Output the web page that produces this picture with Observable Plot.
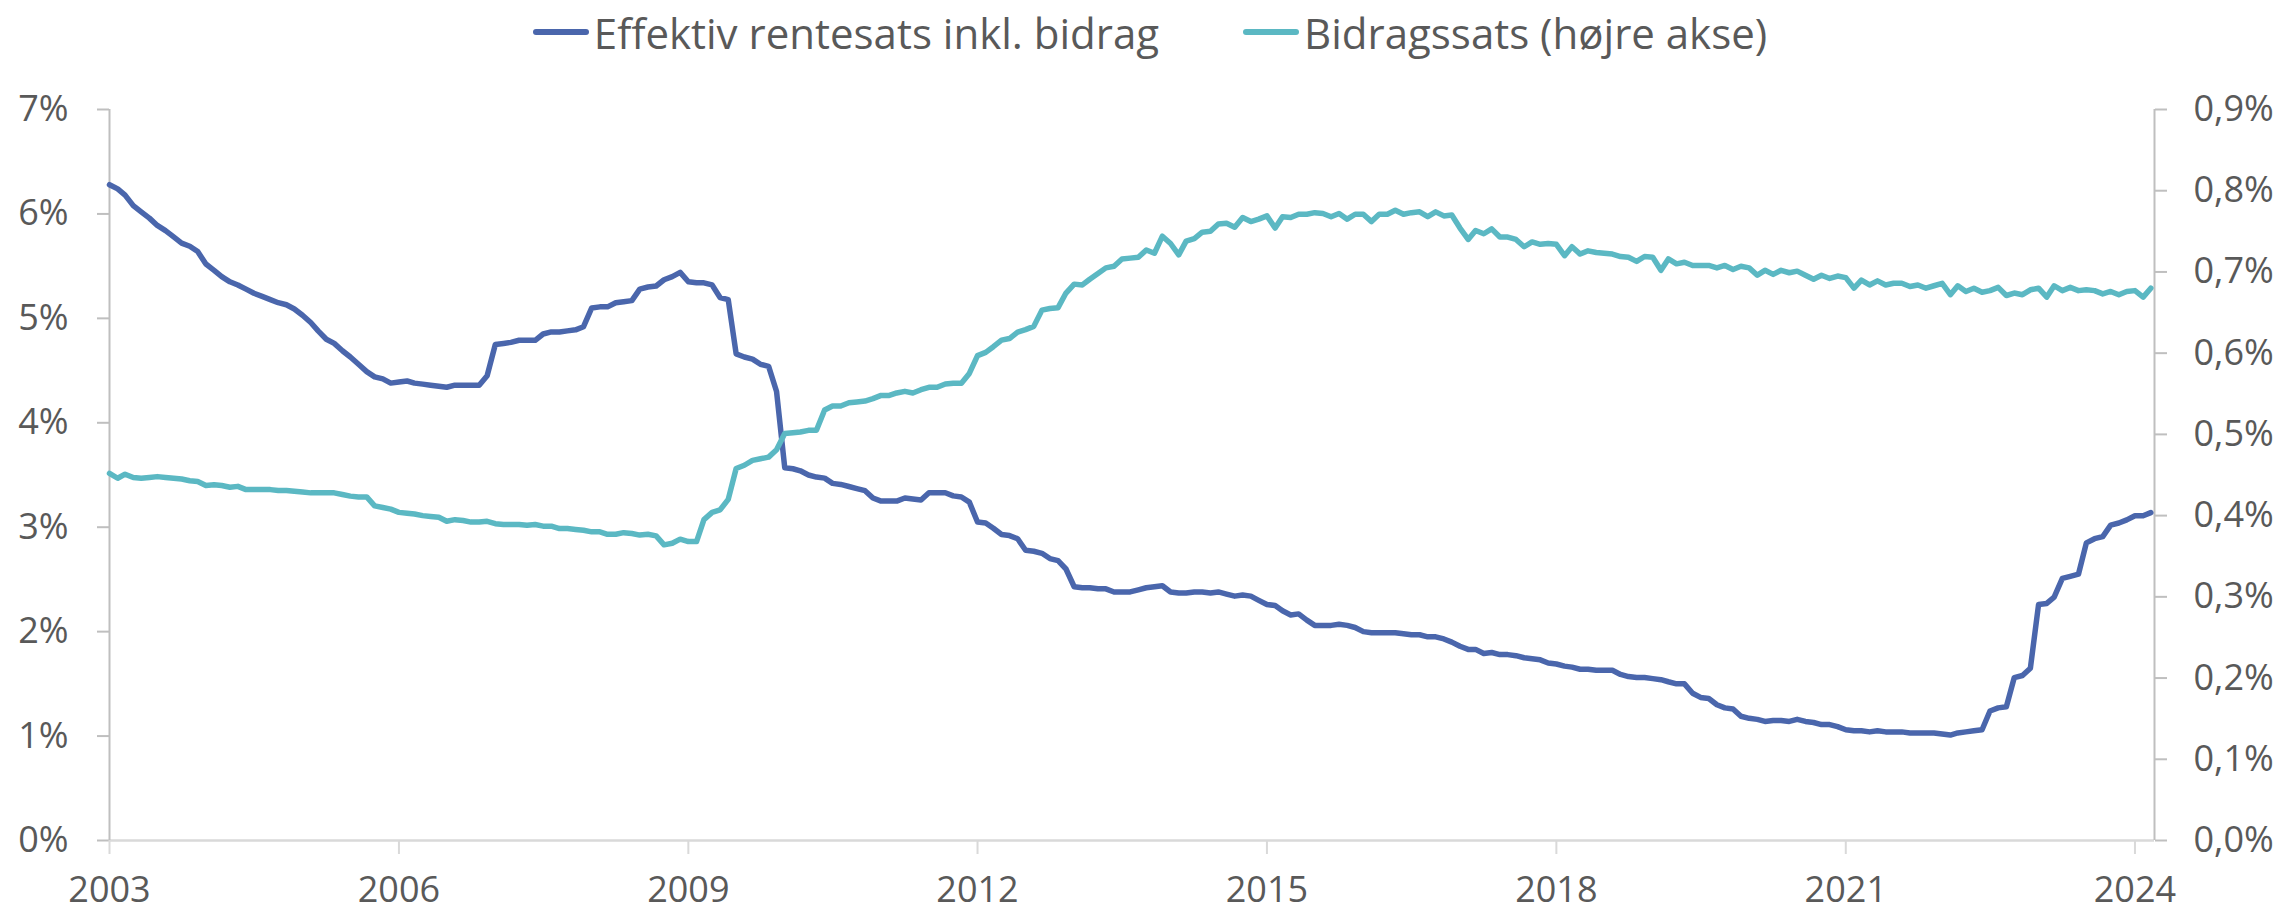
<!DOCTYPE html>
<html><head><meta charset="utf-8">
<script src="https://cdn.jsdelivr.net/npm/d3@7"></script>
<script src="https://cdn.jsdelivr.net/npm/@observablehq/plot@0.6"></script>
<style>
body{margin:0;background:#fff;font-family:"Open Sans",sans-serif;}
#legend{height:90px;display:flex;justify-content:center;align-items:flex-start;padding-left:15px;padding-top:2px;box-sizing:border-box;}
.item{display:flex;align-items:center;height:60px;font-size:42px;color:#595959;white-space:nowrap;}
.sw{width:56px;height:6px;border-radius:3px;margin-right:5px;}
</style></head><body>
<div id="legend"></div>
<div id="chart"></div>
<script>
// Monthly data, Jan 2003 - Mar 2024
const seriesNames = ["Effektiv rentesats inkl. bidrag", "Bidragssats (højre akse)"];
const seriesColors = ["#4A66AC", "#5BB8C3"];
const rente = [
6.28,6.24,6.18,6.08,6.02,5.96,5.89,5.84,5.78,5.72,5.69,5.64,5.52,5.46,5.40,5.35,5.32,5.28,5.24,5.21,5.18,5.15,5.13,5.09,5.03,4.96,4.88,4.80,4.76,4.69,4.63,4.56,4.49,4.44,4.42,4.38,
4.39,4.40,4.38,4.37,4.36,4.35,4.34,4.36,4.36,4.36,4.36,4.45,4.75,4.76,4.77,4.79,4.79,4.79,4.85,4.87,4.87,4.88,4.89,4.92,5.10,5.11,5.11,5.15,5.16,5.17,5.28,5.30,5.31,5.37,5.40,5.44,
5.35,5.34,5.34,5.32,5.20,5.18,4.66,4.63,4.61,4.56,4.54,4.30,3.57,3.56,3.54,3.50,3.48,3.47,3.42,3.41,3.39,3.37,3.35,3.28,3.25,3.25,3.25,3.28,3.27,3.26,3.33,3.33,3.33,3.30,3.29,3.24,
3.05,3.04,2.99,2.93,2.92,2.89,2.78,2.77,2.75,2.70,2.68,2.60,2.43,2.42,2.42,2.41,2.41,2.38,2.38,2.38,2.40,2.42,2.43,2.44,2.38,2.37,2.37,2.38,2.38,2.37,2.38,2.36,2.34,2.35,2.34,2.30,
2.26,2.25,2.20,2.16,2.17,2.11,2.06,2.06,2.06,2.07,2.06,2.04,2.00,1.99,1.99,1.99,1.99,1.98,1.97,1.97,1.95,1.95,1.93,1.90,1.86,1.83,1.83,1.79,1.80,1.78,1.78,1.77,1.75,1.74,1.73,1.70,
1.69,1.67,1.66,1.64,1.64,1.63,1.63,1.63,1.59,1.57,1.56,1.56,1.55,1.54,1.52,1.50,1.50,1.41,1.37,1.36,1.30,1.27,1.26,1.19,1.17,1.16,1.14,1.15,1.15,1.14,1.16,1.14,1.13,1.11,1.11,1.09,
1.06,1.05,1.05,1.04,1.05,1.04,1.04,1.04,1.03,1.03,1.03,1.03,1.02,1.01,1.03,1.04,1.05,1.06,1.24,1.27,1.28,1.56,1.58,1.65,2.26,2.27,2.33,2.51,2.53,2.55,2.85,2.89,2.91,3.02,3.04,3.07,3.11,3.11,3.14
];
const bidrag = [
0.452,0.446,0.451,0.447,0.446,0.447,0.448,0.447,0.446,0.445,0.443,0.442,0.437,0.438,0.437,0.435,0.436,0.432,0.432,0.432,0.432,0.431,0.431,0.430,0.429,0.428,0.428,0.428,0.428,0.426,0.424,0.423,0.423,0.412,0.410,0.408,
0.404,0.403,0.402,0.400,0.399,0.398,0.393,0.395,0.394,0.392,0.392,0.393,0.390,0.389,0.389,0.389,0.388,0.389,0.387,0.387,0.384,0.384,0.383,0.382,0.380,0.380,0.377,0.377,0.379,0.378,0.376,0.377,0.375,0.364,0.366,0.371,
0.368,0.368,0.395,0.404,0.407,0.420,0.458,0.462,0.468,0.470,0.472,0.481,0.501,0.502,0.503,0.505,0.505,0.530,0.535,0.535,0.539,0.540,0.541,0.544,0.548,0.548,0.551,0.553,0.551,0.555,0.558,0.558,0.562,0.563,0.563,0.575,
0.597,0.601,0.608,0.616,0.618,0.626,0.629,0.633,0.653,0.655,0.656,0.674,0.685,0.684,0.691,0.698,0.705,0.707,0.716,0.717,0.718,0.727,0.723,0.744,0.735,0.721,0.738,0.741,0.749,0.750,0.759,0.760,0.755,0.767,0.762,0.765,
0.769,0.754,0.768,0.767,0.771,0.771,0.773,0.772,0.768,0.772,0.765,0.771,0.771,0.762,0.771,0.771,0.776,0.771,0.773,0.774,0.768,0.774,0.769,0.770,0.754,0.740,0.751,0.747,0.753,0.743,0.743,0.740,0.731,0.737,0.734,0.735,
0.734,0.720,0.731,0.722,0.726,0.724,0.723,0.722,0.719,0.718,0.713,0.719,0.718,0.702,0.716,0.710,0.712,0.708,0.708,0.708,0.705,0.708,0.703,0.707,0.705,0.696,0.702,0.697,0.702,0.699,0.701,0.696,0.691,0.696,0.692,0.695,
0.693,0.680,0.690,0.684,0.689,0.684,0.686,0.686,0.682,0.684,0.680,0.683,0.686,0.672,0.683,0.676,0.680,0.675,0.677,0.681,0.671,0.674,0.672,0.678,0.680,0.669,0.683,0.677,0.681,0.677,0.678,0.677,0.673,0.676,0.672,0.676,0.677,0.669,0.680
];
const yearTickLabels = [2003, 2006, 2009, 2012, 2015, 2018, 2021, 2024];
const leftTicks = [0, 1, 2, 3, 4, 5, 6, 7];
const rightTicks = [0, 0.1, 0.2, 0.3, 0.4, 0.5, 0.6, 0.7, 0.8, 0.9];
const leftMax = 7, rightMax = 0.9;

const months = d3.utcMonth.range(new Date(Date.UTC(2003, 0, 1)), new Date(Date.UTC(2024, 3, 1)));
const data = months.map((d, i) => ({date: d, rente: rente[i], bidrag: bidrag[i]}));
const k = leftMax / rightMax;
const xStart = new Date(Date.UTC(2003, 0, 1));
const xEnd = new Date(Date.UTC(2024, 2, 15));
const yearTicks = yearTickLabels.map(y => new Date(Date.UTC(y, 0, 1)));
const rightPos = rightTicks.map((r, i) => i * leftMax / 9);

// legend
const leg = document.getElementById("legend");
seriesNames.forEach((n, i) => {
  const it = document.createElement("div");
  it.className = "item";
  if (i > 0) it.style.marginLeft = "84px";
  it.innerHTML = `<span class="sw" style="background:${seriesColors[i]}"></span><span>${n}</span>`;
  leg.appendChild(it);
});

const chart = Plot.plot({
  width: 2285, height: 823,
  marginTop: 19, marginBottom: 73, marginLeft: 109, marginRight: 131,
  x: {type: "utc", domain: [xStart, xEnd], label: null},
  y: {domain: [0, leftMax], label: null},
  style: {fontFamily: "Open Sans", fontSize: "36px", background: "white", overflow: "visible"},
  marks: [
    Plot.ruleY([0], {stroke: "#D9D9D9", strokeWidth: 2.5}),
    Plot.ruleX([xStart], {stroke: "#BFBFBF", strokeWidth: 2}),
    Plot.ruleX([xEnd], {stroke: "#BFBFBF", strokeWidth: 2}),
    Plot.axisY(leftTicks, {anchor: "left", tickSize: 12, text: null, color: "#BFBFBF", strokeWidth: 2, label: null}),
    Plot.axisY(leftTicks, {anchor: "left", tickSize: 0, tickPadding: 41, color: "#595959", tickFormat: d => d + "%", label: null}),
    Plot.axisY(rightPos, {anchor: "right", tickSize: 12, text: null, color: "#BFBFBF", strokeWidth: 2, label: null}),
    Plot.axisY(rightPos, {anchor: "right", tickSize: 0, tickPadding: 39, color: "#595959",
      tickFormat: d => (d / k).toFixed(1).replace(".", ",") + "%", label: null}),
    Plot.axisX(yearTicks, {anchor: "bottom", tickSize: 14, text: null, color: "#D9D9D9", strokeWidth: 2, label: null}),
    Plot.axisX(yearTicks, {anchor: "bottom", tickSize: 0, tickPadding: 36, color: "#595959",
      tickFormat: d => String(d.getUTCFullYear()), label: null}),
    Plot.lineY(data, {x: "date", y: "rente", stroke: seriesColors[0], strokeWidth: 5.5}),
    Plot.lineY(data, {x: "date", y: d => d.bidrag * k, stroke: seriesColors[1], strokeWidth: 5.5})
  ]
});
document.getElementById("chart").appendChild(chart);
</script>
</body></html>
